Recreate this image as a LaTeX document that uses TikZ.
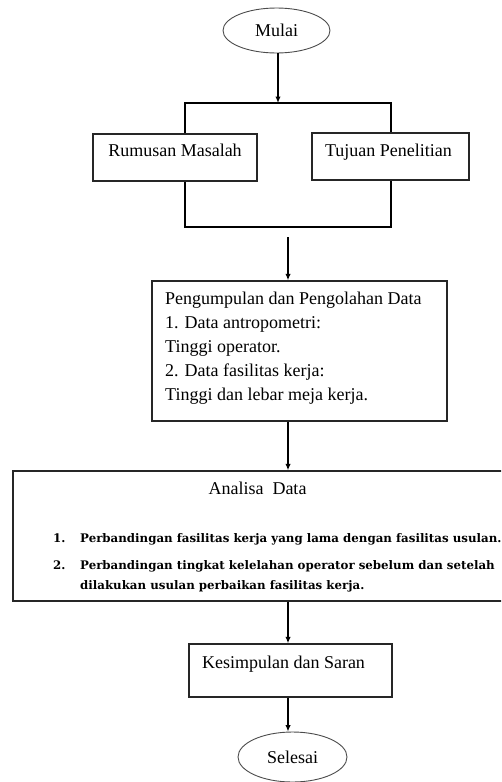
\documentclass[tikz,border=0pt]{standalone}
\usepackage{fontspec}
\setmainfont{Liberation Serif}
\newfontfamily\listfont{DejaVu Serif}
\usetikzlibrary{shapes.geometric,arrows.meta}
\begin{document}
\begin{tikzpicture}[x=1pt,y=-1pt,
  box/.style={draw=black!85, line width=1.4pt, rectangle, inner sep=0pt},
  term/.style={draw=black!70, line width=0.9pt, ellipse, inner sep=0pt, font=\fontsize{18}{22}\selectfont},
  txt/.style={inner sep=0pt, anchor=base, font=\fontsize{18}{24}\selectfont},
  ltxt/.style={txt, anchor=base west},
  conn/.style={draw=black, line width=1.3pt},
  arr/.style={conn, -{Latex[length=6.5pt,width=5.5pt]}},
  item/.style={inner sep=0pt, anchor=base west, font=\listfont\bfseries\fontsize{11.8}{20}\selectfont}
]
\useasboundingbox (0,0) rectangle (501,782);
\clip (0,0) rectangle (501,782);
\fill[white] (0,0) rectangle (501,782);

% start
\node[term, minimum width=107pt, minimum height=45pt] (mulai) at (276.5,30.5) {Mulai};
\coordinate (topj) at (278,103);
\coordinate (tl) at (185,103);
\coordinate (tr) at (391,103);
\coordinate (bl) at (185,227);
\coordinate (br) at (391,227);
\coordinate (s2) at (288,237);

% two parallel boxes
\node[box, minimum width=164pt, minimum height=47pt] (rm) at (175,157.5) {};
\node[txt] (rmt) at (175,156) {Rumusan Masalah};
\node[box, minimum width=157pt, minimum height=47pt] (tp) at (390.5,156.5) {};
\node[txt] (tpt) at (388.5,156) {Tujuan Penelitian};

\draw[arr] (topj |- mulai.south) -- (topj);
\draw[conn] (tl |- rm.north) -- (tl) -- (tr) -- (tr |- tp.north);
\draw[conn] (bl |- rm.south) -- (bl) -- (br) -- (br |- tp.south);

% data collection
\node[box, minimum width=295pt, minimum height=140pt] (pg) at (299.5,351) {};
\node[ltxt] (pg1) at (165,304) {Pengumpulan dan Pengolahan Data};
\node[ltxt] (pg2) at (165,328) {1. Data antropometri:};
\node[ltxt] (pg3) at (165,352) {Tinggi operator.};
\node[ltxt] (pg4) at (165,376) {2. Data fasilitas kerja:};
\node[ltxt] (pg5) at (165,400) {Tinggi dan lebar meja kerja.};
\draw[arr] (s2) -- (s2 |- pg.north);

% analysis
\node[box, minimum width=527pt, minimum height=130pt] (an) at (276.5,536) {};
\node[txt] (ant) at (257.5,494) {Analisa\ \ Data};
\node[item] (n1) at (53,542) {1.};
\node[item] (i1) at (80,542) {Perbandingan fasilitas kerja yang lama dengan fasilitas usulan.};
\node[item] (n2) at (53,569) {2.};
\node[item] (i2) at (80,569) {Perbandingan tingkat kelelahan operator sebelum dan setelah};
\node[item] (i3) at (80,589) {dilakukan usulan perbaikan fasilitas kerja.};
\draw[arr] (s2 |- pg.south) -- (s2 |- an.north);

% conclusion
\node[box, minimum width=203pt, minimum height=53pt] (ks) at (290.5,670.5) {};
\node[txt] (kst) at (283.5,668) {Kesimpulan dan Saran};
\draw[arr] (s2 |- an.south) -- (s2 |- ks.north);

% end
\node[term, minimum width=109pt, minimum height=50pt] (sl) at (292.5,757) {Selesai};
\draw[arr] (s2 |- ks.south) -- (s2 |- sl.north);
\end{tikzpicture}
\end{document}
